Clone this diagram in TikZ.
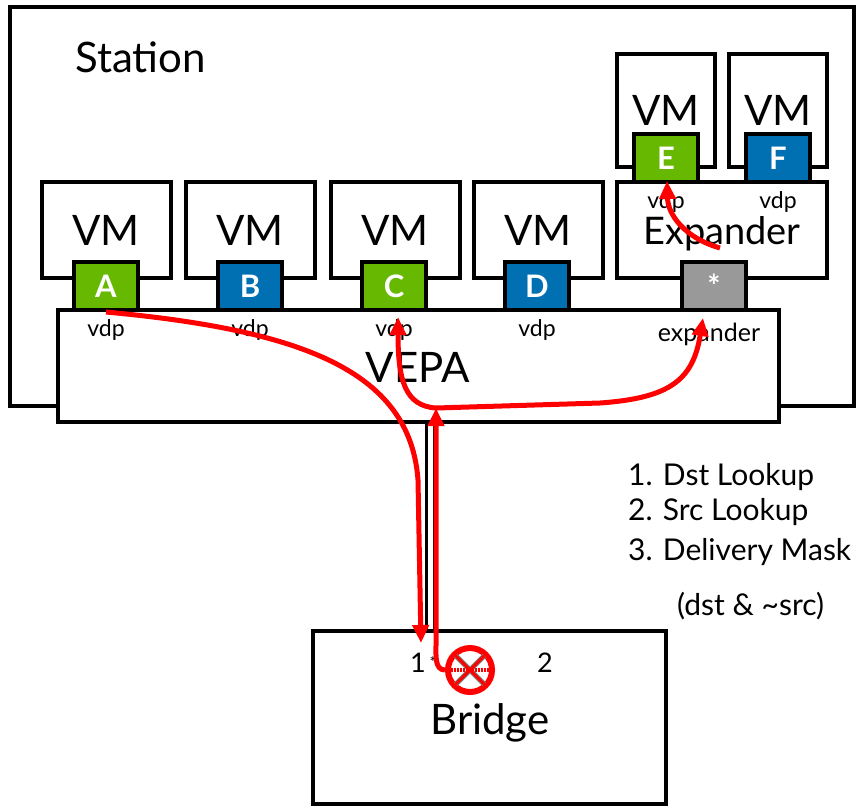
\documentclass[tikz,border=0pt]{standalone}
\usepackage{fontspec}
\setmainfont{Lato}
\usetikzlibrary{arrows.meta,positioning}
\definecolor{vdpgreen}{HTML}{66B800}
\definecolor{vdpblue}{HTML}{0070B2}
\definecolor{expgray}{HTML}{999999}

\begin{document}
\begin{tikzpicture}[x=1pt, y=-1pt,
    every node/.style={align=center},
    box/.style={rectangle, draw=black, line width=4pt, fill=white, inner sep=0pt},
    vmbox/.style={box, minimum width=129pt, minimum height=96pt, font=\fontsize{42}{44}\selectfont},
    topvm/.style={box, minimum width=98pt, minimum height=113pt, font=\fontsize{42}{44}\selectfont},
    port/.style={box, minimum width=64pt, minimum height=48pt, text=white, font=\fontsize{31}{33}\selectfont\bfseries},
    big/.style={inner sep=0pt, font=\fontsize{42}{44}\selectfont},
    small/.style={inner sep=0pt, font=\fontsize{23}{25}\selectfont},
    listitem/.style={anchor=base west, inner sep=0pt, font=\fontsize{30}{32}\selectfont},
    flow/.style={-{Triangle[length=18pt, width=16pt]}, red, line width=5pt}
]
\useasboundingbox (0,0) rectangle (858,806);
\clip (0,0) rectangle (858,806);

% station
\node[box, minimum width=844pt, minimum height=399pt] (station) at (432,206.5) {};
\node[big, anchor=base west] (stationlbl) at (75,72) {Station};

% virtual machines
\node[vmbox] (vm1) at (106,230) {VM};
\node[vmbox] (vm2) at (250,230) {VM};
\node[vmbox] (vm3) at (395,230) {VM};
\node[vmbox] (vm4) at (538,230) {VM};
\node[box, minimum width=210pt, minimum height=96pt] (expbox) at (722,230) {};
\node[big, anchor=base, font=\fontsize{38}{40}\selectfont] (explbl) at (722,244) {Expander};
\node[topvm] (vm5) at (666,110.5) {VM};
\node[topvm] (vm6) at (778,110.5) {VM};

% VEPA
\node[box, minimum width=721pt, minimum height=112pt] (vepa) at (418.5,366) {};
\node[big, anchor=base] (vepalbl) at (418,382) {VEPA};

% ports
\node[port, fill=vdpgreen] (pA) at (106,286) {A};
\node[port, fill=vdpblue] (pB) at (250,286) {B};
\node[port, fill=vdpgreen] (pC) at (394,286) {C};
\node[port, fill=vdpblue] (pD) at (537,286) {D};
\node[port, fill=expgray] (pstar) at (714,286) {*};
\node[port, fill=vdpgreen] (pE) at (666,158) {E};
\node[port, fill=vdpblue] (pF) at (778,158) {F};

\node[small, below=7pt of pA] (vdpA) {vdp};
\node[small, below=7pt of pB] (vdpB) {vdp};
\node[small, below=7pt of pC] (vdpC) {vdp};
\node[small, below=7pt of pD] (vdpD) {vdp};
\node[small, below=7pt of pE] (vdpE) {vdp};
\node[small, below=7pt of pF] (vdpF) {vdp};
\node[small, below=11pt of pstar, xshift=-5pt, font=\fontsize{25}{27}\selectfont] (explink) {expander};

% bridge
\node[box, minimum width=353pt, minimum height=173pt] (bridge) at (489.5,717.5) {};
\node[big, anchor=base] (bridgelbl) at (490,734) {Bridge};
\node[anchor=base, inner sep=0pt, font=\fontsize{27}{29}\selectfont] (b1) at (418,672) {1};
\node[inner sep=0pt, font=\fontsize{16}{18}\selectfont] (b1star) at (433,662) {*};
\node[anchor=base, inner sep=0pt, font=\fontsize{27}{29}\selectfont] (b2) at (545,672) {2};

% link
\coordinate (cableL) at (426,0);
\coordinate (cableR) at (434,0);
\draw[line width=3pt] (vepa.south -| cableL) -- (bridge.north -| cableL);
\draw[line width=3pt] (vepa.south -| cableR) -- (bridge.north -| cableR);

% filtered port
\node[circle, draw=red, line width=6pt, fill=white, minimum size=44pt, inner sep=0pt] (nogo) at (470,670) {};
\draw[gray, line width=5pt, shorten >=5pt, shorten <=5pt] (nogo.135) -- (nogo.-45);
\draw[gray, line width=5pt, shorten >=5pt, shorten <=5pt] (nogo.45) -- (nogo.-135);
\draw[red, line width=3pt, shorten >=5pt, shorten <=5pt] (nogo.135) -- (nogo.-45);
\draw[red, line width=3pt, shorten >=5pt, shorten <=5pt] (nogo.45) -- (nogo.-135);
\draw[red, line width=4pt, dash pattern=on 2pt off 1pt] (nogo.west) -- (nogo.east);

% lookup steps
\node[listitem] (step1) at (628,485) {1. Dst Lookup};
\node[listitem] (step2) at (628,520) {2. Src Lookup};
\node[listitem] (step3) at (628,560) {3. Delivery Mask};
\node[listitem] (mask) at (677,615) {(dst \& \textasciitilde src)};

% frame flow
\coordinate (tipdown) at (421,643);
\coordinate (split) at (436,408);
\coordinate (tipC) at (398,317);
\coordinate (tipstar) at (703,318);
\coordinate (expsrc) at (720,248);
\coordinate (tipE) at (667,181);
\draw[flow] (pA.south) .. controls (300,330) and (410,370) .. (418,480) -- (tipdown);
\draw[flow] (nogo.west) to[out=180,in=-90] (436,645) -- (split);
\draw[flow] (split) .. controls (405,406) and (398,380) .. (tipC);
\draw[flow] (split) -- (600,403) .. controls (670,398) and (693,380) .. (tipstar);
\draw[flow] (expsrc) .. controls (685,238) and (668,215) .. (tipE);
\end{tikzpicture}
\end{document}
